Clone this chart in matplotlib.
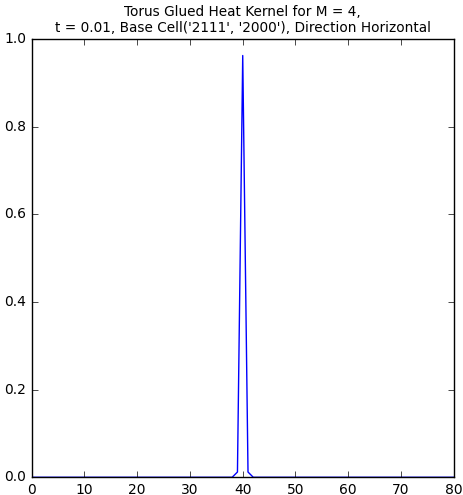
import matplotlib
matplotlib.use("Agg")
import matplotlib.pyplot as plt
import numpy as np

plt.style.use('classic')

x_positions = list(range(0, 81))
peak_index = [39, 40, 41]
peak_values = [0.012, 0.962, 0.012]

y_values = np.zeros(len(x_positions))
for i, v in zip(peak_index, peak_values):
    y_values[i] = v

fig = plt.figure(figsize=(4.63, 4.95), dpi=100, facecolor='white')
ax = fig.add_axes([0.0685, 0.0358, 0.9115, 0.8857])
ax.plot(x_positions, y_values, color='blue', linewidth=1.0)
ax.set_xlim(0, 80)
ax.set_ylim(0, 1.0)
ax.set_xticks([0, 10, 20, 30, 40, 50, 60, 70, 80])
ax.set_yticks([0.0, 0.2, 0.4, 0.6, 0.8, 1.0])
ax.tick_params(labelsize=10)
ax.set_title("Torus Glued Heat Kernel for M = 4,\nt = 0.01, Base Cell('2111', '2000'), Direction Horizontal",
             fontsize=9.8)
fig.savefig("out.png", dpi=100, facecolor='white')
